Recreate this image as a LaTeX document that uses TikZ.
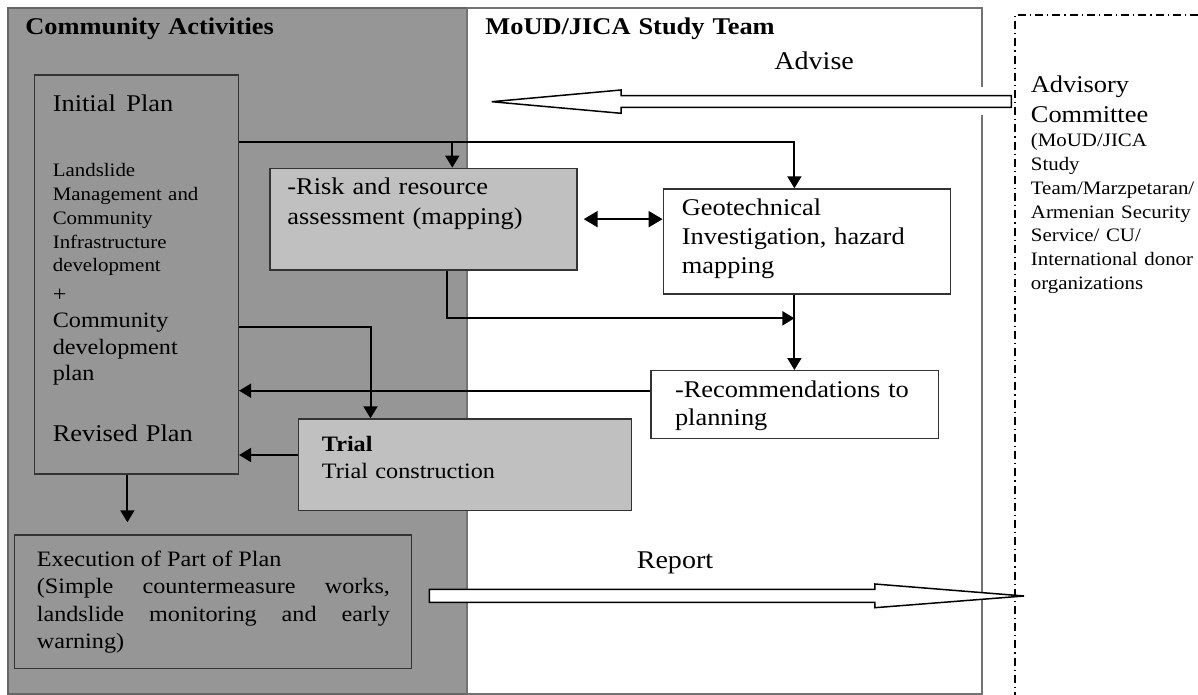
\documentclass[tikz,border=0pt]{standalone}
\usepackage{fontspec}
\setmainfont{Liberation Serif}[FakeStretch=1.1]
\usepackage{tikz}
\usetikzlibrary{arrows.meta,fit,positioning}
\definecolor{panelgrey}{gray}{0.59}
\definecolor{boxgrey}{gray}{0.753}
\tikzset{box/.style={rectangle,draw=black!80,line width=0.7pt,inner sep=0pt}}
\newcommand\fntmain{\fontsize{12}{15}\selectfont}
\newcommand\fntmid{\fontsize{11}{13.3}\selectfont}
\newcommand\fntsmall{\fontsize{9.5}{11.9}\selectfont}
\newcommand\fntlabel{\fontsize{12.75}{15}\selectfont}

\begin{document}
\begin{tikzpicture}[x=0.5pt,y=-0.5pt,
    link/.style={line width=1pt,-{Triangle[length=6pt,width=7pt]}},
    both/.style={line width=1pt,{Triangle[length=7pt,width=8pt]}-{Triangle[length=7pt,width=8pt]}},
    txt/.style={inner sep=0pt,anchor=base west,align=left,text width=150pt},
    hollow/.style={draw=black,fill=white,line width=0.75pt,line join=miter}]
\useasboundingbox (0,0) rectangle (1198,695);

% panels
\fill[panelgrey] (8,8) rectangle (467,694);
\draw[black!60,line width=0.9pt] (467,8) -- (8,8) -- (8,694) -- (467,694);
\draw[black!55,line width=0.9pt] (467,8) -- (982,8) -- (982,87);
\draw[black!55,line width=0.9pt] (982,115) -- (982,694) -- (467,694);
\draw[black!55,line width=0.9pt] (467,8) -- (467,694);
\draw[line width=0.6pt,dash pattern=on 4pt off 2pt on 0.6pt off 2pt] (1198,15) -- (1015,15) -- (1015,695);

% boxes
\node[box,fill=panelgrey,fit={(34.4,75) (238.4,474)}] (init) {};
\node[box,fill=boxgrey,fit={(269.8,168.3) (577,270)}] (risk) {};
\node[box,fill=white,fit={(663.3,189) (950.6,294)}] (geo) {};
\node[box,fill=white,fit={(651,370.7) (938.7,438.3)}] (rec) {};
\node[box,fill=boxgrey,fit={(298.5,419) (631.4,510.7)}] (trial) {};
\node[box,fill=panelgrey,fit={(14.5,535) (411.4,668.3)}] (exec) {};

% bend points
\coordinate (top) at (794.4,141.7);
\coordinate (rbr) at (452.3,141.7);
\coordinate (low) at (447,318.3);
\coordinate (mid) at (794.4,318.3);
\coordinate (recin) at (651,390.7);
\coordinate (cdp) at (370.5,327);
\coordinate (trin) at (298.5,455);
\coordinate (down) at (127.4,500);

% connectors
\draw[link] (init.east |- top) -| (geo.north -| top);
\draw[link] (rbr) -- (risk.north -| rbr);
\draw[link] (risk.south -| low) |- (mid);
\draw[link] (geo.south -| mid) -- (rec.north -| mid);
\draw[both,shorten <=3pt] (risk.east) -- (risk.east -| geo.west);
\draw[link] (rec.west |- recin) -- (init.east |- recin);
\draw[link] (init.east |- cdp) -| (trial.north -| cdp);
\draw[link] (trial.west |- trin) -- (init.east |- trin);
\draw[link] (init.south -| down) -- ([yshift=6pt]exec.north -| down);

% advise and report
\draw[hollow] (1011.4,95.7) -- (621,95.7) -- (621,90) -- (491.7,101.7) -- (621,113.3) -- (621,107.5) -- (1011.4,107.5) -- cycle;
\draw[hollow] (429.4,589.3) -- (874.8,589.3) -- (874.8,584) -- (1024,596) -- (874.8,607.7) -- (874.8,602.3) -- (429.4,602.3) -- cycle;

% texts
\node[txt,font=\fntmain\bfseries] (cat) at (25,35) {Community Activities};
\node[txt,font=\fntmain\bfseries] (team) at (485,35) {MoUD/JICA Study Team};
\node[txt,font=\fntlabel] (adv) at (774,70) {Advise};
\node[txt,font=\fntlabel] (rep) at (636.4,568.3) {Report};
\node[txt] (ac) at (1030.5,93) {{\fntmain Advisory\\Committee\par}\fntsmall (MoUD/JICA\\Study\\Team/Marzpetaran/\\Armenian Security\\Service/ CU/\\International donor\\organizations};

\node[txt,font=\fntmain] (ip) at (52.4,111.7) {Initial\hspace{5.3pt}Plan};
\node[txt,font=\fntsmall] (lm) at (52.4,176.7) {Landslide\\Management and\\Community\\Infrastructure\\development};
\node[txt,font=\fntmid] (cd) at (52.4,301) {+\\Community\\development\\plan};
\node[txt,font=\fntmain] (rp) at (52.4,441.7) {Revised Plan};

\node[txt,font=\fntmain] (risktxt) at (287,195) {-Risk and resource\\assessment (mapping)};
\node[txt,font={\fontsize{12}{14.5}\selectfont}] (geotxt) at (681.5,215) {Geotechnical\\Investigation, hazard\\mapping};
\node[txt,font={\fontsize{12}{13.9}\selectfont}] (rectxt) at (674.6,397.3) {-Recommendations to\\planning};
\node[txt,font=\fntmid] (trialtxt) at (321.5,451.7) {\textbf{Trial}\\Trial construction};
\node[txt,font={\fontsize{11}{13.6}\selectfont},align=justify,text width=176.6pt] (exectxt) at (36.4,566.7) {Execution of Part of Plan\\(Simple countermeasure works,\linebreak landslide monitoring and early\linebreak warning)};
\end{tikzpicture}
\end{document}
